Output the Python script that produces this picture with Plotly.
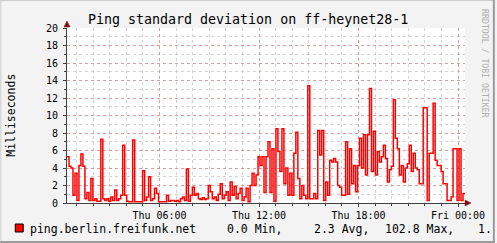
import plotly.graph_objects as go
import pandas as pd

# ---- data ----
series_name = "ping.berlin.freifunk.net"
start_time = "2015-01-01 00:25:12"   # a Thursday
step_seconds = 432                    # 7.2 minutes per sample
values = [
    5.3, 4.2, 4.0, 0.9, 3.4, 0.3, 4.3, 5.6, 4.2, 0.5,
    1.2, 0.3, 2.8, 0.3, 0.5, 0.2, 0.2, 7.3, 0.5, 0.3,
    0.5, 0.2, 0.7, 0.3, 1.5, 0.3, 0.5, 0.9, 6.6, 0.9,
    0.2, 0.15, 0.15, 7.2, 0.15, 0.15, 0.15, 0.15, 3.7, 0.3,
    0.7, 3.0, 0.3, 0.5, 1.7, 1.1, 0.15, 0.15, 0.15, 0.15,
    0.9, 0.2, 0.3, 0.3, 0.2, 0.3, 0.15, 0.5, 0.7, 0.3,
    3.9, 0.2, 0.9, 1.8, 0.9, 1.1, 0.5, 0.4, 0.6, 0.4,
    0.5, 2.0, 1.3, 0.5, 0.7, 0.3, 1.0, 2.2, 0.5, 0.9,
    1.3, 0.3, 2.4, 0.9, 1.9, 0.5, 1.1, 1.7, 0.3, 0.7,
    1.7, 0.15, 2.0, 3.4, 2.0, 3.2, 5.3, 4.3, 5.3, 1.2,
    5.3, 7.0, 1.2, 6.2, 0.2, 8.5, 5.9, 3.6, 8.5, 2.2,
    4.0, 0.9, 3.4, 0.9, 5.7, 8.1, 2.8, 0.5, 2.0, 0.9,
    0.5, 13.4, 0.5, 0.5, 1.1, 0.5, 8.3, 5.5, 8.3, 0.3,
    2.4, 0.9, 4.9, 4.7, 5.1, 4.7, 2.0, 1.8, 0.9, 0.9,
    7.0, 1.0, 6.2, 2.2, 4.3, 1.3, 4.3, 7.4, 4.0, 7.8,
    3.2, 7.8, 13.1, 3.6, 8.2, 3.2, 5.9, 4.7, 5.3, 6.6,
    5.1, 2.4, 3.8, 4.2, 11.8, 7.4, 6.2, 3.2, 4.3, 2.4,
    4.0, 4.5, 6.6, 3.6, 5.7, 4.0, 3.8, 2.2, 2.2, 10.9,
    10.9, 0.3, 5.7, 5.7, 11.4, 4.9, 4.3, 4.3, 3.6, 2.2,
    2.2, 0.3, 0.3, 0.7, 6.2, 6.2, 0.3, 6.2, 0.3, 1.1,
]
x_tick_times = ["2015-01-01 06:00", "2015-01-01 12:00", "2015-01-01 18:00", "2015-01-02 00:00"]
x_tick_labels = ["Thu 06:00", "Thu 12:00", "Thu 18:00", "Fri 00:00"]
y_tick_values = [0, 2, 4, 6, 8, 10, 12, 14, 16, 18, 20]
y_tick_labels = [str(v) for v in y_tick_values]
legend_stats = ["0.0 Min,", "2.3 Avg,", "102.8 Max,", "1."]

# ---- layout geometry ----
W, H = 497, 243
L, R, T, B = 67, 30, 28, 40
PW, PH = W - L - R, H - T - B
MONO = "DejaVu Sans Mono"


def px(xp):
    return (xp - L) / PW


def py(yp):
    return (H - B - yp) / PH


t0 = pd.Timestamp(start_time)
times = list(pd.date_range(t0, periods=len(values), freq=f"{step_seconds}s"))
t_end = t0 + pd.Timedelta(hours=24)
xs = times + [t_end]
ys = values + [values[-1]]

fig = go.Figure()
fig.add_trace(go.Scatter(
    x=xs, y=ys, mode="lines",
    line=dict(color="#FF0000", width=1.5, shape="hv"),
    hoverinfo="skip", showlegend=False,
))

grid_major = "rgba(225,120,120,0.6)"
grid_minor = "rgba(175,175,175,0.55)"
axis_col = "#404040"

fig.update_layout(
    width=W, height=H,
    margin=dict(l=L, r=R, t=T, b=B, pad=0),
    paper_bgcolor="#F3F3F3",
    plot_bgcolor="#FFFFFF",
    showlegend=False,
    xaxis=dict(
        type="date", range=[t0, t_end],
        tickvals=x_tick_times, ticktext=x_tick_labels,
        showgrid=True, gridcolor=grid_major, griddash="dot", gridwidth=1,
        ticks="outside", ticklen=3, tickcolor=axis_col, tickwidth=1,
        showline=True, linecolor=axis_col, linewidth=1,
        zeroline=False,
        tickfont=dict(family=MONO, size=10, color="#000000"),
        minor=dict(dtick=3600000, tick0="2015-01-01 00:00", showgrid=True,
                   gridcolor=grid_minor, griddash="dot", gridwidth=1,
                   ticks="outside", ticklen=2, tickcolor=axis_col),
        fixedrange=True,
    ),
    yaxis=dict(
        range=[0, 20],
        tickvals=y_tick_values, ticktext=y_tick_labels,
        showgrid=True, gridcolor=grid_major, griddash="dot", gridwidth=1,
        ticks="outside", ticklen=3, tickcolor=axis_col, tickwidth=1,
        showline=True, linecolor=axis_col, linewidth=1,
        zeroline=False,
        ticklabelstandoff=3,
        tickfont=dict(family=MONO, size=10, color="#000000"),
        minor=dict(dtick=1, showgrid=True, gridcolor=grid_minor,
                   griddash="dot", gridwidth=1,
                   ticks="outside", ticklen=2, tickcolor=axis_col),
        fixedrange=True,
    ),
)

shapes = []
arrow_col = "#7F1010"
shapes.append(dict(type="path", xref="paper", yref="paper",
                   path=f"M {px(64)} {py(27)} L {px(70)} {py(27)} L {px(67)} {py(21)} Z",
                   fillcolor=arrow_col, line=dict(color=arrow_col, width=0.5)))
shapes.append(dict(type="path", xref="paper", yref="paper",
                   path=f"M {px(467)} {py(200)} L {px(467)} {py(206)} L {px(473)} {py(203)} Z",
                   fillcolor=arrow_col, line=dict(color=arrow_col, width=0.5)))
# frame
shapes.append(dict(type="line", xref="paper", yref="paper",
                   x0=px(0), x1=px(W), y0=py(0.5), y1=py(0.5), line=dict(color="#CBCBCB", width=1)))
shapes.append(dict(type="line", xref="paper", yref="paper",
                   x0=px(0.5), x1=px(0.5), y0=py(0), y1=py(H), line=dict(color="#CBCBCB", width=1)))
shapes.append(dict(type="line", xref="paper", yref="paper",
                   x0=px(0), x1=px(W), y0=py(H - 1), y1=py(H - 1), line=dict(color="#9A9A9A", width=2)))
shapes.append(dict(type="line", xref="paper", yref="paper",
                   x0=px(W - 1), x1=px(W - 1), y0=py(0), y1=py(H), line=dict(color="#9A9A9A", width=2)))
# legend swatch
shapes.append(dict(type="rect", xref="paper", yref="paper",
                   x0=px(15), x1=px(23), y0=py(232), y1=py(224),
                   fillcolor="#FF0000", line=dict(color="#000000", width=1)))
fig.update_layout(shapes=shapes)

legend_font = dict(family=MONO, size=11.5, color="#000000")
annotations = [
    dict(text="Ping standard deviation on ff-heynet28-1", xref="paper", yref="paper",
         x=px(248.5), y=py(19), xanchor="center", yanchor="middle", showarrow=False,
         font=dict(family=MONO, size=13.3, color="#000000")),
    dict(text="Milliseconds", xref="paper", yref="paper",
         x=px(10.5), y=py(115), xanchor="center", yanchor="middle", showarrow=False,
         textangle=-90, font=dict(family=MONO, size=11.5, color="#000000")),
    dict(text="RRDTOOL / TOBI OETIKER", xref="paper", yref="paper",
         x=px(487), y=py(64), xanchor="center", yanchor="middle", showarrow=False,
         textangle=90, font=dict(family=MONO, size=8.2, color="#AFAFAF")),
]
legend_parts = [(series_name, 29), (legend_stats[0], 227), (legend_stats[1], 314),
                (legend_stats[2], 386), (legend_stats[3], 479)]
for txt, xpos in legend_parts:
    annotations.append(dict(text=txt, xref="paper", yref="paper",
                            x=px(xpos), y=py(229), xanchor="left", yanchor="middle",
                            showarrow=False, borderpad=0, font=legend_font))
fig.update_layout(annotations=annotations)

fig.write_html("out.html")
